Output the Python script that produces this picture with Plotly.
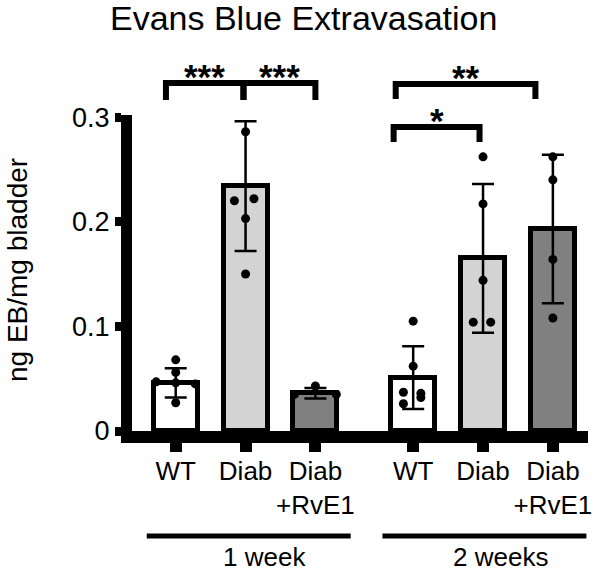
import plotly.graph_objects as go

# ---------------- data ----------------
categories = ["WT", "Diab", "Diab<br>+RvE1", "WT", "Diab", "Diab<br>+RvE1"]
groups = ["1 week", "2 weeks"]
means = [0.046, 0.234, 0.036, 0.051, 0.165, 0.193]
sds = [0.014, 0.062, 0.005, 0.030, 0.071, 0.071]
pts_wt1 = [0.068, 0.056, 0.047, 0.046, 0.045, 0.027]
pts_diab1 = [0.286, 0.222, 0.220, 0.203, 0.150]
pts_rve1 = [0.043, 0.035, 0.035]
pts_wt2 = [0.105, 0.062, 0.037, 0.036, 0.032, 0.026]
pts_diab2 = [0.262, 0.217, 0.144, 0.104, 0.104]
pts_rve2 = [0.262, 0.240, 0.164, 0.108]
points = [pts_wt1, pts_diab1, pts_rve1, pts_wt2, pts_diab2, pts_rve2]
stars = ["***", "***", "*", "**"]
y_ticks = [0, 0.1, 0.2, 0.3]
y_tick_text = ["0", "0.1", "0.2", "0.3"]

# ---------------- layout / style ----------------
W, H = 596, 573
L, R, T, B = 132, 4, 115, 142
PW, PH = W - L - R, H - T - B
positions = [0, 1, 2, 3.4, 4.4, 5.4]
jitter = [
    [0, 0, -0.28, 0, 0.28, 0],
    [0, 0.12, -0.16, 0, 0],
    [0, -0.3, 0.3],
    [0, 0, -0.14, 0.11, 0.11, -0.14],
    [0, 0, 0, -0.14, 0.11],
    [0, 0, 0, 0],
]
fills = ["#ffffff", "#d3d3d3", "#808080", "#ffffff", "#d3d3d3", "#808080"]
FONT = "Liberation Sans, Arial, sans-serif"


def py(p):  # pixel y -> paper y
    return (H - B - p) / PH


def pxx(p):  # pixel x -> paper x
    return (p - L) / PW


fig = go.Figure()
fig.add_trace(go.Bar(
    x=positions, y=means, width=0.63,
    marker=dict(color=fills, line=dict(color="black", width=5)),
    error_y=dict(type="data", array=sds, visible=True, color="black",
                 thickness=2.5, width=11),
    showlegend=False, hoverinfo="skip",
))
for i, vals in enumerate(points):
    fig.add_trace(go.Scatter(
        x=[positions[i] + j for j in jitter[i]], y=vals, mode="markers",
        marker=dict(color="black", size=9), cliponaxis=False,
        showlegend=False, hoverinfo="skip",
    ))

shapes = []
annotations = []

# significance brackets: (left x, right x, bar y px, leg y px, label)
brackets = [
    (positions[0] - 0.14, positions[1] - 0.03, 83, 100, stars[0]),
    (positions[1] - 0.03, positions[2], 83, 100, stars[1]),
    (positions[3] - 0.28, positions[4] - 0.05, 127, 142, stars[2]),
    (positions[3] - 0.25, positions[5] - 0.25, 84, 99, stars[3]),
]
for xl, xr, yb, yl, s in brackets:
    shapes.append(dict(
        type="path", xref="x", yref="paper",
        path=f"M {xl},{py(yl)} L {xl},{py(yb)} L {xr},{py(yb)} L {xr},{py(yl)}",
        line=dict(color="black", width=6),
    ))
    annotations.append(dict(
        x=(xl + xr) / 2, y=py(yb), xref="x", yref="paper", text=f"<b>{s}</b>",
        showarrow=False, yanchor="bottom", yshift=-15,
        font=dict(family=FONT, size=35, color="black"),
    ))

# group lines and labels
for g, (c, name) in enumerate(zip([1.045, 4.42], groups)):
    shapes.append(dict(type="line", xref="x", yref="paper",
                       x0=c - 1.46, x1=c + 1.46, y0=py(536), y1=py(536),
                       line=dict(color="black", width=5)))
    annotations.append(dict(x=c, y=py(557), xref="x", yref="paper", text=name,
                            showarrow=False, xshift=16, yanchor="middle",
                            font=dict(family=FONT, size=26, color="black")))

# title
annotations.append(dict(x=pxx(305), y=py(18), xref="paper", yref="paper",
                        text="Evans Blue Extravasation", showarrow=False,
                        yanchor="middle",
                        font=dict(family=FONT, size=34, color="black")))
# y title
annotations.append(dict(x=pxx(16), y=py(270), xref="paper", yref="paper",
                        text="ng EB/mg bladder", showarrow=False, textangle=-90,
                        xanchor="center", yanchor="middle",
                        font=dict(family=FONT, size=28, color="black")))

fig.update_layout(
    width=W, height=H,
    margin=dict(l=L, r=R, t=T, b=B, pad=0),
    plot_bgcolor="white", paper_bgcolor="white",
    shapes=shapes, annotations=annotations,
    bargap=0,
    xaxis=dict(range=[-0.626, 5.903], tickvals=positions, ticktext=categories,
               showline=True, linewidth=12, linecolor="black",
               ticks="outside", ticklen=9, tickwidth=12, tickcolor="black",
               showgrid=False, zeroline=False, ticklabelstandoff=-3,
               tickfont=dict(family=FONT, size=26, color="black")),
    yaxis=dict(range=[0, 0.302], tickvals=y_ticks, ticktext=y_tick_text,
               showline=True, linewidth=11, linecolor="black",
               ticks="outside", ticklen=6, tickwidth=9, tickcolor="black",
               showgrid=False, zeroline=False,
               tickfont=dict(family=FONT, size=27, color="black")),
)
fig.write_html("out.html", config={"displayModeBar": False},
               post_script="document.body.style.margin='0';document.body.style.overflow='hidden';")
